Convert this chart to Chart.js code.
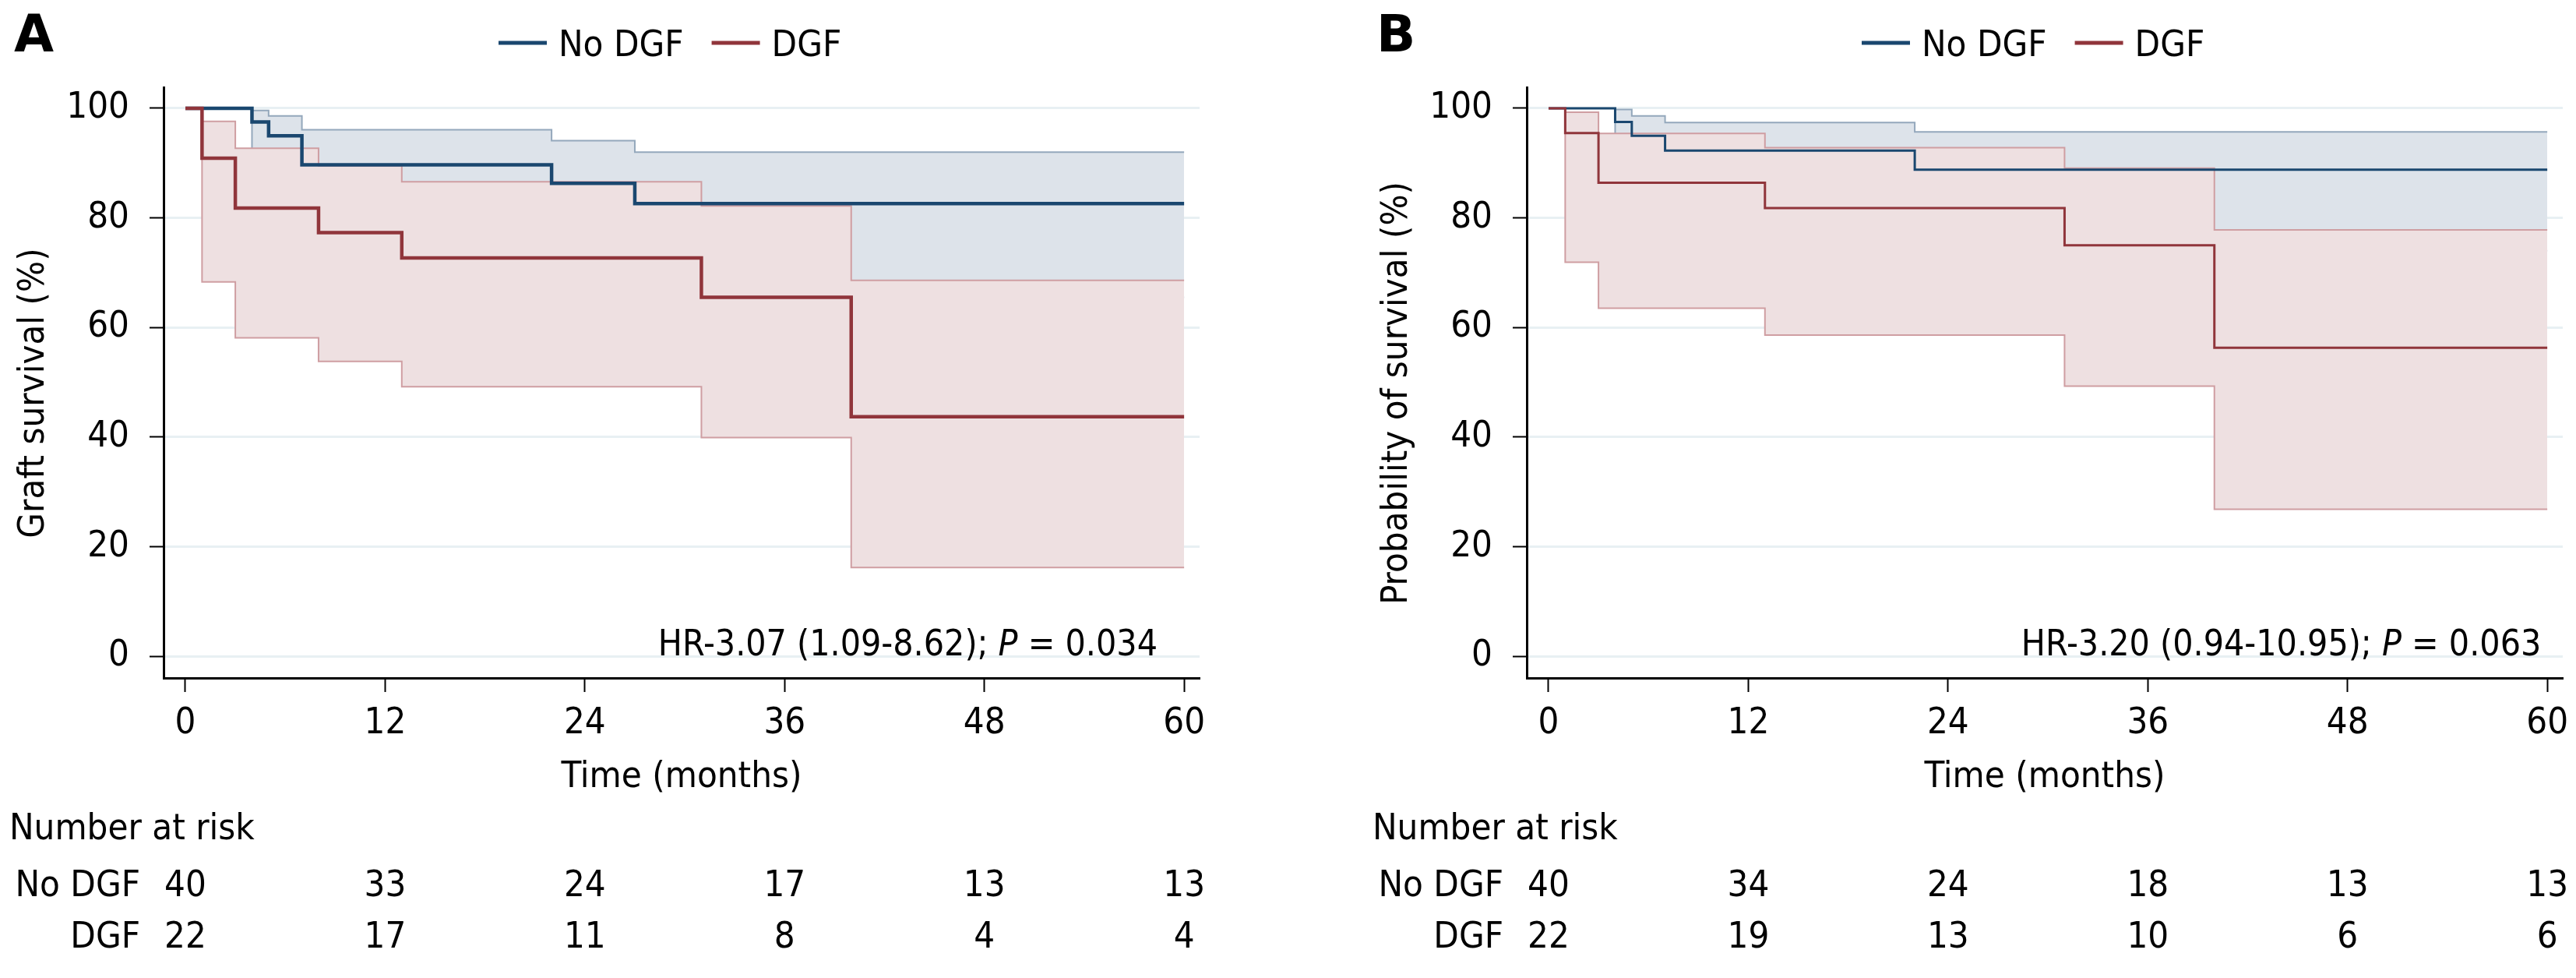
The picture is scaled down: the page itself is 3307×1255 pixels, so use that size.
<!DOCTYPE html>
<html>
<head>
<meta charset="utf-8">
<script src="https://cdn.jsdelivr.net/npm/chart.js@4.4.1/dist/chart.umd.min.js"></script>
<style>
    html, body { margin: 0; padding: 0; background: #fff; }
    #wrap { position: relative; width: 3307px; height: 1255px; overflow: hidden; }
    canvas { position: absolute; top: 0; }
</style>
</head>
<body>
<div id="wrap">
    <canvas id="panelA" width="1750" height="1255" style="left:0px"></canvas>
    <canvas id="panelB" width="1557" height="1255" style="left:1750px"></canvas>
</div>
<script>
const FONT = "'DejaVu Sans Condensed', 'DejaVu Sans', sans-serif";
const NAVY = '#1a476f';
const MAROON = '#90353b';

// shared axis ticks and groups
const timeTicks = [0, 12, 24, 36, 48, 60];
const survTicks = [0, 20, 40, 60, 80, 100];
const groupNames = ['No DGF', 'DGF'];

// Panel A - graft survival (Kaplan-Meier, % with 95% CI)
const aNoDgfTime = [0, 4, 5, 7, 22, 27, 60];
const aNoDgfSurv = [100, 97.5, 95.0, 89.7, 86.3, 82.6, 82.6];
const aNoDgfUpper = [100, 99.6, 98.6, 96.1, 94.1, 92.0, 92.0];
const aNoDgfLower = [100, 83.5, 81.8, 75.0, 70.8, 65.5, 65.5];
const aDgfTime = [0, 1, 3, 8, 13, 31, 40, 60];
const aDgfSurv = [100, 90.9, 81.8, 77.3, 72.7, 65.5, 43.7, 43.7];
const aDgfUpper = [100, 97.6, 92.7, 89.5, 86.6, 82.2, 68.6, 68.6];
const aDgfLower = [100, 68.3, 58.1, 53.8, 49.2, 39.9, 16.2, 16.2];
const aRiskNoDgf = [40, 33, 24, 17, 13, 13];
const aRiskDgf = [22, 17, 11, 8, 4, 4];
const aHr = 'HR-3.07 (1.09-8.62)';
const aP = '0.034';

// Panel B - probability of survival
const bNoDgfTime = [0, 4, 5, 7, 22, 60];
const bNoDgfSurv = [100, 97.5, 95.0, 92.3, 88.8, 88.8];
const bNoDgfUpper = [100, 99.8, 98.6, 97.4, 95.7, 95.7];
const bNoDgfLower = [100, 83.5, 81.8, 78.5, 74.0, 74.0];
const bDgfTime = [0, 1, 3, 13, 31, 40, 60];
const bDgfSurv = [100, 95.5, 86.4, 81.8, 75.0, 56.3, 56.3];
const bDgfUpper = [100, 99.3, 95.4, 92.8, 89.1, 77.8, 77.8];
const bDgfLower = [100, 71.9, 63.5, 58.6, 49.3, 26.8, 26.8];
const bRiskNoDgf = [40, 34, 24, 18, 13, 13];
const bRiskDgf = [22, 19, 13, 10, 6, 6];
const bHr = 'HR-3.20 (0.94-10.95)';
const bP = '0.063';

function pts(time, vals) {
    return time.map((t, i) => ({ x: t, y: vals[i] }));
}

// Draws panel letter, y title, legend, HR note and the number-at-risk table
const panelDecor = {
    id: 'panelDecor',
    afterDraw(chart, args, opts) {
        const { ctx } = chart;
        const x = chart.scales.x;
        const y = chart.scales.y;
        ctx.save();
        ctx.fillStyle = '#000';
        ctx.textBaseline = 'alphabetic';

        // panel letter
        ctx.font = "bold 66px 'DejaVu Sans', sans-serif";
        ctx.textAlign = 'left';
        ctx.fillText(opts.letter, opts.letterX, 66);

        // y axis title, centred on the 0-100 span
        ctx.save();
        ctx.font = '47px ' + FONT;
        ctx.translate(44, (y.getPixelForValue(100) + chart.chartArea.bottom) / 2);
        ctx.rotate(-Math.PI / 2);
        ctx.textAlign = 'center';
        ctx.textBaseline = 'middle';
        ctx.fillText(opts.yTitle, 0, 0);
        ctx.restore();

        // legend
        ctx.font = '47px ' + FONT;
        let lx = 640;
        [NAVY, MAROON].forEach((col, i) => {
            ctx.strokeStyle = col;
            ctx.lineWidth = 5;
            ctx.beginPath();
            ctx.moveTo(lx, 55);
            ctx.lineTo(lx + 62, 55);
            ctx.stroke();
            ctx.fillText(groupNames[i], lx + 77, 72);
            lx += 77 + ctx.measureText(groupNames[i]).width + 36;
        });

        // HR note with italic P
        let hx = x.getPixelForValue(28.4);
        const hy = y.getPixelForValue(0) - 1;
        ctx.font = '46px ' + FONT;
        const part1 = opts.hr + '; ';
        ctx.fillText(part1, hx, hy);
        hx += ctx.measureText(part1).width;
        ctx.font = 'italic 46px ' + FONT;
        ctx.fillText('P', hx, hy);
        hx += ctx.measureText('P').width;
        ctx.font = '46px ' + FONT;
        ctx.fillText(' = ' + opts.p, hx, hy);

        // number at risk
        ctx.font = '47px ' + FONT;
        ctx.fillText('Number at risk', 12, 1077);
        ctx.textAlign = 'right';
        ctx.fillText(groupNames[0], 180, 1150);
        ctx.fillText(groupNames[1], 180, 1216);
        ctx.textAlign = 'center';
        timeTicks.forEach((t, i) => {
            const px = x.getPixelForValue(t);
            ctx.fillText(String(opts.riskNoDgf[i]), px, 1150);
            ctx.fillText(String(opts.riskDgf[i]), px, 1216);
        });
        ctx.restore();
    }
};

function buildPanel(id, p) {
    const canvas = document.getElementById(id);
    const W = canvas.width;
    const datasets = [
        // No DGF confidence band
        { data: pts(p.noTime, p.noUpper), stepped: true, borderColor: '#94a8bc', borderWidth: 2,
          backgroundColor: '#dde3ea', fill: '+1', order: 7, pointRadius: 0 },
        { data: pts(p.noTime, p.noLower), stepped: true, borderColor: '#94a8bc', borderWidth: 2,
          fill: false, order: 6, pointRadius: 0 },
        // DGF confidence band
        { data: pts(p.dTime, p.dUpper), stepped: true, borderColor: '#cf9ea2', borderWidth: 2,
          backgroundColor: '#eee0e1', fill: '+1', order: 5, pointRadius: 0 },
        { data: pts(p.dTime, p.dLower), stepped: true, borderColor: '#cf9ea2', borderWidth: 2,
          fill: false, order: 4, pointRadius: 0 },
        // survival curves
        { label: groupNames[0], data: pts(p.noTime, p.noSurv), stepped: true, borderColor: NAVY,
          borderWidth: p.lw, fill: false, order: 1, pointRadius: 0 },
        { label: groupNames[1], data: pts(p.dTime, p.dSurv), stepped: true, borderColor: MAROON,
          borderWidth: p.lw, fill: false, order: 0, pointRadius: 0 }
    ];

    return new Chart(canvas, {
        type: 'line',
        data: { datasets },
        options: {
            responsive: false,
            animation: false,
            devicePixelRatio: 1,
            layout: { padding: { left: 0, top: 112, right: W - 1540, bottom: 229 } },
            plugins: {
                legend: { display: false },
                tooltip: { enabled: false },
                panelDecor: {
                    letter: p.letter, letterX: p.letterX, hr: p.hr, p: p.p, yTitle: p.yTitle,
                    riskNoDgf: p.riskNo, riskDgf: p.riskD
                }
            },
            scales: {
                x: {
                    type: 'linear',
                    min: -1.31,
                    max: 60.93,
                    afterBuildTicks: s => { s.ticks = timeTicks.map(v => ({ value: v })); },
                    afterFit: s => { s.height = 156; s.paddingLeft = 0; s.paddingRight = 0; },
                    grid: { drawOnChartArea: false, drawTicks: true, tickLength: 18, tickColor: '#000', tickWidth: 2 },
                    border: { display: true, color: '#000', width: 3 },
                    ticks: { color: '#000', padding: 13, maxRotation: 0, autoSkip: false,
                             font: { family: FONT, size: 47 } },
                    title: { display: true, text: 'Time (months)', color: '#000',
                             font: { family: FONT, size: 47 }, padding: { top: 0, bottom: 0 } }
                },
                y: {
                    min: -3.98,
                    max: 103.84,
                    afterBuildTicks: s => { s.ticks = survTicks.map(v => ({ value: v })); },
                    afterFit: s => { s.width = 210; s.paddingTop = 0; s.paddingBottom = 0; },
                    grid: { color: '#e8f0f3', lineWidth: 3, drawTicks: true, tickLength: 18,
                            tickColor: '#000', tickWidth: 2 },
                    border: { display: true, color: '#000', width: 3 },
                    ticks: { color: '#000', padding: 26, font: { family: FONT, size: 47 } },
                    title: { display: false }
                }
            }
        },
        plugins: [panelDecor]
    });
}

buildPanel('panelA', {
    letter: 'A', letterX: 18, yTitle: 'Graft survival (%)', lw: 4.5,
    noTime: aNoDgfTime, noSurv: aNoDgfSurv, noUpper: aNoDgfUpper, noLower: aNoDgfLower,
    dTime: aDgfTime, dSurv: aDgfSurv, dUpper: aDgfUpper, dLower: aDgfLower,
    riskNo: aRiskNoDgf, riskD: aRiskDgf, hr: aHr, p: aP
});

buildPanel('panelB', {
    letter: 'B', letterX: 17, yTitle: 'Probability of survival (%)', lw: 3,
    noTime: bNoDgfTime, noSurv: bNoDgfSurv, noUpper: bNoDgfUpper, noLower: bNoDgfLower,
    dTime: bDgfTime, dSurv: bDgfSurv, dUpper: bDgfUpper, dLower: bDgfLower,
    riskNo: bRiskNoDgf, riskD: bRiskDgf, hr: bHr, p: bP
});
</script>
</body>
</html>
